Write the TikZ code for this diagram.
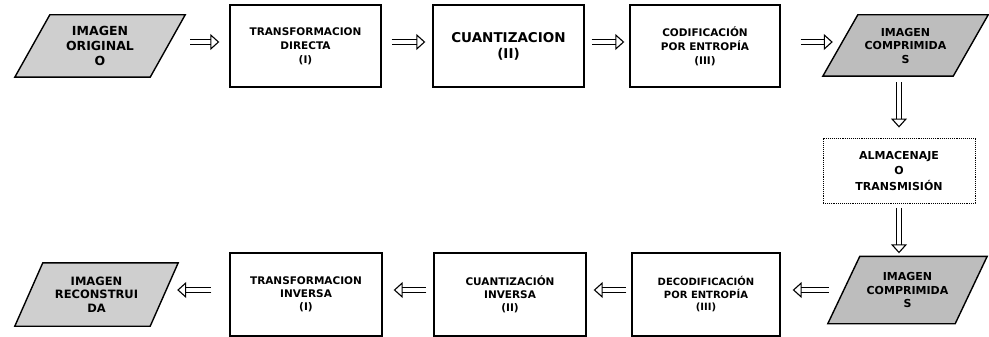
\documentclass[tikz,border=0pt]{standalone}
\usepackage{fontspec}
\setmainfont{DejaVu Sans}
\usetikzlibrary{arrows.meta,backgrounds}
\begin{document}
\begin{tikzpicture}[x=1pt,y=-1pt,
  box/.style={draw, line width=1.4pt, minimum width=151pt, minimum height=82pt,
    align=center, inner sep=0pt, font=\bfseries\fontsize{10.5}{14}\selectfont},
  storebox/.style={draw, densely dotted, line width=0.9pt, minimum width=152pt, minimum height=65pt,
    align=center, inner sep=0pt, font=\bfseries\fontsize{11}{15.5}\selectfont},
  paratext/.style={align=center, inner sep=0pt, font=\bfseries\fontsize{11}{13.5}\selectfont},
  parashape/.style={draw, line width=1.4pt, fill=#1},
  blk/.style={double, double distance=4.4pt, line width=1.1pt,
    -{Triangle[open, length=9pt, width=16pt]}}
]
\useasboundingbox (0,0) rectangle (989,337);

% top row
\node[paratext, minimum width=170pt, minimum height=62pt, font=\bfseries\fontsize{12.5}{15}\selectfont] (p1) at (100,46) {IMAGEN\\ORIGINAL\\O};
\node[box] (b1) at (305.5,46) {TRANSFORMACION\\DIRECTA\\(I)};
\node[box, font=\bfseries\fontsize{13.5}{16}\selectfont] (b2) at (508.5,46) {CUANTIZACION\\(II)};
\node[box, minimum width=150pt] (b3) at (705,46) {CODIFICACIÓN\\POR ENTROPÍA\\(III)};
\node[paratext, minimum width=165pt, minimum height=61pt] (p2) at (905.5,45.5) {IMAGEN\\COMPRIMIDA\\S};

% storage
\node[storebox] (s) at (899,170.5) {ALMACENAJE\\O\\TRANSMISIÓN};

% bottom row
\node[paratext, minimum width=159pt, minimum height=67pt] (p3) at (907.5,290) {IMAGEN\\COMPRIMIDA\\S};
\node[box, minimum width=148pt, minimum height=83pt, font=\bfseries\fontsize{10}{12.5}\selectfont] (b6) at (706,294.5) {DECODIFICACIÓN\\POR ENTROPÍA\\(III)};
\node[box, minimum width=152pt, minimum height=83pt, font=\bfseries\fontsize{10.5}{13}\selectfont] (b7) at (510,294.5) {CUANTIZACIÓN\\INVERSA\\(II)};
\node[box, minimum width=152pt, minimum height=83pt, font=\bfseries\fontsize{10.5}{13}\selectfont] (b8) at (306,294.5) {TRANSFORMACION\\INVERSA\\(I)};
\node[paratext, minimum width=163pt, minimum height=63pt, font=\bfseries\fontsize{11.5}{13.5}\selectfont] (p4) at (96.5,294.5) {IMAGEN\\RECONSTRUI\\DA};

% parallelogram outlines behind the texts
\begin{scope}[on background layer]
  \draw[parashape=gray!38] ([xshift=35pt]p1.north west) -- (p1.north east) -- ([xshift=-35pt]p1.south east) -- (p1.south west) -- cycle;
  \draw[parashape=gray!52] ([xshift=35pt]p2.north west) -- (p2.north east) -- ([xshift=-35pt]p2.south east) -- (p2.south west) -- cycle;
  \draw[parashape=gray!52] ([xshift=32pt]p3.north west) -- (p3.north east) -- ([xshift=-32pt]p3.south east) -- (p3.south west) -- cycle;
  \draw[parashape=gray!38] ([xshift=28pt]p4.north west) -- (p4.north east) -- ([xshift=-28pt]p4.south east) -- (p4.south west) -- cycle;
\end{scope}

% connectors, top row
\draw[blk, shorten <=5pt, shorten >=10pt] ([yshift=4pt]p1.east) -- ([yshift=4pt]b1.west);
\draw[blk, shorten <=10pt, shorten >=7pt] ([yshift=4pt]b1.east) -- ([yshift=4pt]b2.west);
\draw[blk, shorten <=7pt, shorten >=5pt] ([yshift=4pt]b2.east) -- ([yshift=4pt]b3.west);
\draw[blk, shorten <=20pt, shorten >=-10pt] ([yshift=4pt]b3.east) -- ([yshift=4pt]b3.east -| p2.west);

% vertical
\draw[blk, shorten <=6pt, shorten >=10pt] (s.north |- p2.south) -- (s.north);
\draw[blk, shorten <=5pt, shorten >=3pt] (s.south) -- (s.south |- p3.north);

% bottom row
\draw[blk, shorten <=-1pt, shorten >=12pt] (p3.west) -- (p3.west -| b6.east);
\draw[blk, shorten <=5pt, shorten >=7pt] ([yshift=4.5pt]b6.west) -- ([yshift=4.5pt]b7.east);
\draw[blk, shorten <=7pt, shorten >=11pt] ([yshift=4.5pt]b7.west) -- ([yshift=4.5pt]b8.east);
\draw[blk, shorten <=18pt, shorten >=-1pt] ([yshift=4.5pt]b8.west) -- ([yshift=4.5pt]p4.east);
\end{tikzpicture}
\end{document}
